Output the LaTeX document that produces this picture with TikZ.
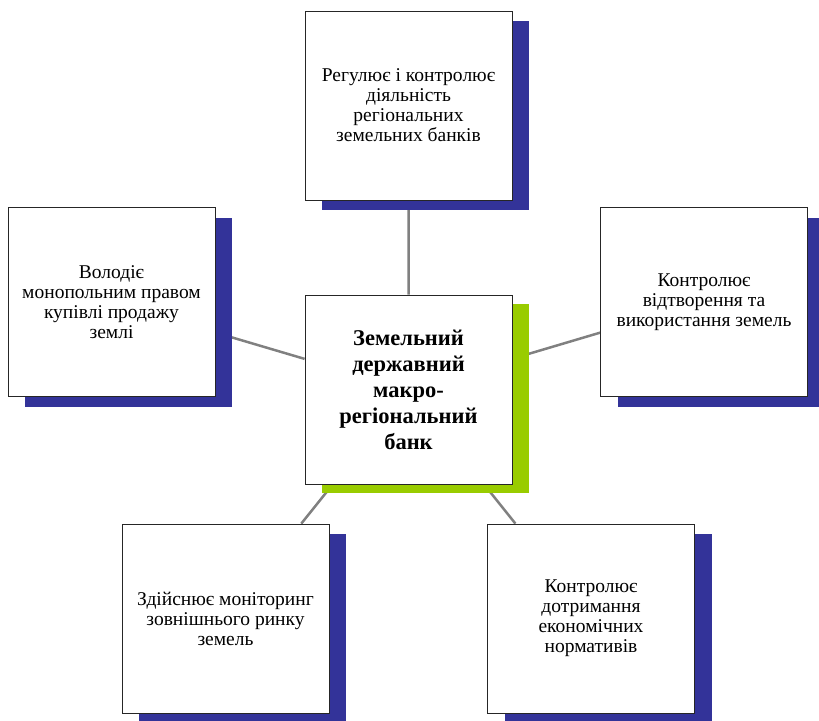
\documentclass[tikz,border=0pt]{standalone}
\usepackage{fontspec}
\setmainfont{Liberation Serif}
\newfontfamily\boxfont{Liberation Serif}
\usetikzlibrary{positioning,shadows,backgrounds}
\definecolor{shadowblue}{RGB}{51,51,153}
\definecolor{shadowgreen}{RGB}{153,204,0}
\definecolor{linkgray}{RGB}{128,128,128}

\begin{document}
\begin{tikzpicture}[x=1pt,y=1pt,node distance=2cm,on grid,
   card/.style={draw=black!85,line width=0.8pt,fill=white,minimum width=207pt,
      minimum height=189pt,inner sep=0pt,align=center},
   task/.style={card,font=\boxfont\fontsize{19.5}{20}\selectfont,
      drop shadow={shadow xshift=17pt,shadow yshift=-10pt,fill=shadowblue,opacity=1}},
   hub/.style={card,font=\boxfont\fontsize{22.5}{26}\selectfont\bfseries,
      drop shadow={shadow xshift=17pt,shadow yshift=-9pt,fill=shadowgreen,opacity=1}},
   link/.style={draw=linkgray,line width=2.5pt}]
   \useasboundingbox (0,0) rectangle (819,-720);
   \node[hub] (bank) at (408.5,-389.5) {Земельний\\державний\\макро-\\регіональний\\банк};
   \node[task] (regulate) [above=284pt of bank] {Регулює і контролює\\діяльність\\регіональних\\земельних банків};
   \node[task] (own) [above left=87.5pt and 297pt of bank] {Володіє\\монопольним правом\\купівлі продажу\\землі};
   \node[task] (control) [above right=87.5pt and 295.5pt of bank] {Контролює\\відтворення та\\використання земель};
   \node[task] (monitor) [below left=229pt and 183pt of bank] {Здійснює моніторинг\\зовнішнього ринку\\земель};
   \node[task] (norms) [below right=229pt and 182.5pt of bank] {Контролює\\дотримання\\економічних\\нормативів};
   \begin{scope}[on background layer]
    \path[link] (bank) -- (regulate)
                (bank) -- (own)
                (bank) -- (control)
                (bank) -- (monitor)
                (bank) -- (norms);
   \end{scope}
\end{tikzpicture}
\end{document}
